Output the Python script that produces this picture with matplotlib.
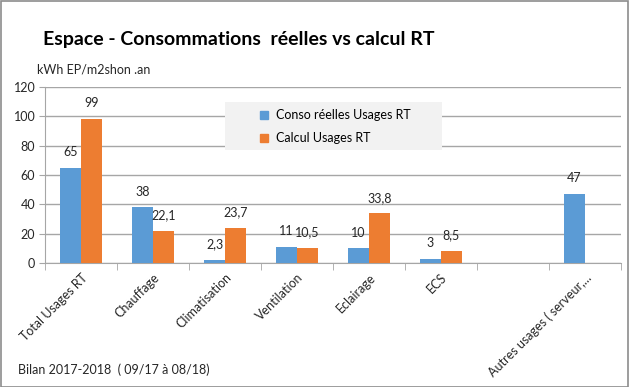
import matplotlib.pyplot as plt
from matplotlib.patches import Rectangle
from matplotlib.lines import Line2D
import numpy as np

categories = ['Total Usages RT', 'Chauffage', 'Climatisation', 'Ventilation',
              'Eclairage', 'ECS', '', 'Autres usages ( serveur,...']
conso_reelles = [65, 38, 2.3, 11, 10, 3, np.nan, 47]
calcul_rt = [98.5, 22.1, 23.7, 10.5, 33.8, 8.5, np.nan, np.nan]
conso_labels = ['65', '38', '2,3', '11', '10', '3', '', '47']
calcul_labels = ['99', '22,1', '23,7', '10,5', '33,8', '8,5', '', '']
yticks = [0, 20, 40, 60, 80, 100, 120]

BLUE = '#5b9bd5'
ORANGE = '#ed7d31'
GRID = '#a6a6a6'
TXT = '#262626'

plt.rcParams['font.family'] = ['Lato', 'DejaVu Sans']

fig = plt.figure(figsize=(6.29, 3.87), dpi=100)
# cadre gris autour du graphique
fig.patches.append(Rectangle((0.001, 0.001), 0.997, 0.997, transform=fig.transFigure,
                             fill=False, edgecolor='#8c8c8c', linewidth=1.2))

ax = fig.add_axes([45/629, 1-263/387, 576/629, 176/387])
x = np.arange(len(categories))
w = 0.29
b1 = ax.bar(x - w/2, conso_reelles, w, color=BLUE, zorder=3)
b2 = ax.bar(x + w/2, calcul_rt, w, color=ORANGE, zorder=3)

# étiquettes de données
for bars, labels in ((b1, conso_labels), (b2, calcul_labels)):
    for bar, lab in zip(bars, labels):
        if not lab:
            continue
        ax.annotate(lab, (bar.get_x() + bar.get_width()/2, bar.get_height()),
                    xytext=(0, 7), textcoords='offset points',
                    ha='center', va='bottom', fontsize=9, color=TXT)

ax.set_xlim(-0.5, len(categories) - 0.5)
ax.set_ylim(0, 120)
ax.set_yticks(yticks)
ax.yaxis.grid(True, color=GRID, linewidth=1)
ax.set_axisbelow(True)

ax.set_xticks(x)
ax.set_xticklabels(categories, rotation=45, ha='right', rotation_mode='anchor',
                   fontsize=9, color=TXT)
ax.set_xticks(np.arange(len(categories) + 1) - 0.5, minor=True)
ax.tick_params(axis='x', which='major', length=0, pad=6)
ax.tick_params(axis='x', which='minor', length=5, color=GRID)
ax.tick_params(axis='y', length=4, color=GRID, labelsize=9, labelcolor=TXT, pad=3)

for s in ('top', 'right'):
    ax.spines[s].set_visible(False)
for s in ('left', 'bottom'):
    ax.spines[s].set_color(GRID)

# légende sur fond gris clair
ax.add_patch(Rectangle((0.3125, 0.642), 0.377, 0.273, transform=ax.transAxes,
                       facecolor='#f2f2f2', edgecolor='none', zorder=4))
handles = [Line2D([], [], marker='s', linestyle='none', color=BLUE, markersize=6),
           Line2D([], [], marker='s', linestyle='none', color=ORANGE, markersize=6)]
leg = ax.legend(handles, ['Conso réelles Usages RT', 'Calcul Usages RT'],
                loc='upper left', bbox_to_anchor=(0.372, 0.873), frameon=False,
                fontsize=9, handlelength=0.8, handletextpad=0.5, labelspacing=0.85,
                borderpad=0, borderaxespad=0)
leg.set_zorder(5)

fig.text(43/629, 1-40/387, 'Espace - Consommations  réelles vs calcul RT',
         fontsize=14, fontweight='bold', color='black', va='center', ha='left')
fig.text(37/629, 1-70/387, 'kWh EP/m2shon .an', fontsize=9, color=TXT,
         va='center', ha='left')
fig.text(18/629, 1-370/387, 'Bilan 2017-2018  ( 09/17 à 08/18)', fontsize=9,
         color=TXT, va='center', ha='left')

fig.savefig('out.png', dpi=100)
